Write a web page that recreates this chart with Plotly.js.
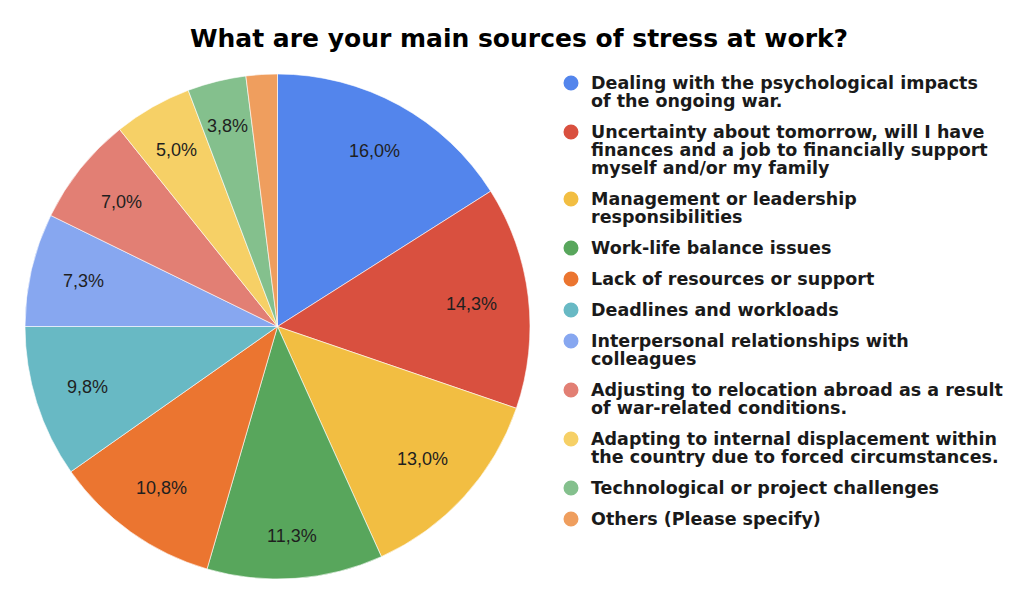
<!DOCTYPE html>
<html>
<head>
<meta charset="utf-8">
<script src="https://cdn.plot.ly/plotly-3.0.1.min.js"></script>
<style>html,body{margin:0;padding:0;background:#fff;}#chart{width:1024px;height:601px;}</style>
</head>
<body>
<div id="chart"></div>
<script>
const categories = [
  "Dealing with the psychological impacts of the ongoing war.",
  "Uncertainty about tomorrow, will I have finances and a job to financially support myself and/or my family",
  "Management or leadership responsibilities",
  "Work-life balance issues",
  "Lack of resources or support",
  "Deadlines and workloads",
  "Interpersonal relationships with colleagues",
  "Adjusting to relocation abroad as a result of war-related conditions.",
  "Adapting to internal displacement within the country due to forced circumstances.",
  "Technological or project challenges",
  "Others (Please specify)"
];
const legendLines = [
  ["Dealing with the psychological impacts", "of the ongoing war."],
  ["Uncertainty about tomorrow, will I have", "finances and a job to financially support", "myself and/or my family"],
  ["Management or leadership", "responsibilities"],
  ["Work-life balance issues"],
  ["Lack of resources or support"],
  ["Deadlines and workloads"],
  ["Interpersonal relationships with", "colleagues"],
  ["Adjusting to relocation abroad as a result", "of war-related conditions."],
  ["Adapting to internal displacement within", "the country due to forced circumstances."],
  ["Technological or project challenges"],
  ["Others (Please specify)"]
];
const responses = [64, 57, 52, 45, 43, 39, 29, 28, 20, 15, 8];
const colors = ["#5385EC", "#D9503F", "#F2BE42", "#58A65C", "#EB7530", "#68B9C4",
                "#87A7F0", "#E27F74", "#F6D066", "#84C08D", "#EF9E5E"];

const W = 1024, H = 601;
const total = responses.reduce((a, b) => a + b, 0);
const pctText = responses.map(v => (v / total * 100 + 1e-9).toFixed(1).replace(".", ",") + "%");

// pie geometry (domain)
const dom = {x: [25 / W, 530 / W], y: [22 / H, 527 / H]};
const cx = (dom.x[0] + dom.x[1]) / 2 * W;
const cy = (1 - (dom.y[0] + dom.y[1]) / 2) * H;
const R = Math.min((dom.x[1] - dom.x[0]) * W, (dom.y[1] - dom.y[0]) * H) / 2;

const annotations = [];
const shapes = [];

// slice labels (all but the tiny last slice): text box kept a fixed inset from the rim
const labelSize = 18, inset = 32;
let cum = 0;
responses.forEach((v, i) => {
  const mid = (cum + v / 2) / total * 2 * Math.PI;
  cum += v;
  if (i === responses.length - 1) return;
  const s = Math.sin(mid), c = Math.cos(mid);
  const bw = pctText[i].length * 0.545 * labelSize, bh = labelSize;
  const half = bw / 2 * Math.abs(s) + bh / 2 * Math.abs(c);
  const rr = R - inset - half;
  const px = cx + rr * s;
  const py = cy - rr * c;
  annotations.push({
    xref: "paper", yref: "paper", x: px / W, y: 1 - py / H,
    xanchor: "center", yanchor: "middle", showarrow: false,
    text: pctText[i],
    font: {family: "Liberation Sans, Arial", size: labelSize, color: "#1f1f1f"}
  });
});

// legend
const legX = 571, textX = 589, lineH = 18, gap = 13;
let y = 83;
legendLines.forEach((lines, i) => {
  shapes.push({
    type: "circle", xref: "paper", yref: "paper",
    x0: (legX - 7.5) / W, x1: (legX + 7.5) / W,
    y0: 1 - (y + 7.5) / H, y1: 1 - (y - 7.5) / H,
    fillcolor: colors[i], line: {width: 0}
  });
  lines.forEach((ln, k) => {
    annotations.push({
      xref: "paper", yref: "paper",
      x: textX / W, y: 1 - (y + k * lineH) / H,
      xanchor: "left", yanchor: "middle",
      text: ln, showarrow: false,
      font: {family: "DejaVu Sans", size: 17.5, color: "#1a1a1a", weight: "bold"}
    });
  });
  y += lines.length * lineH + gap;
});

const trace = {
  type: "pie",
  labels: categories,
  values: responses,
  marker: {colors: colors, line: {color: "#ffffff", width: 0.6}},
  sort: false,
  direction: "clockwise",
  rotation: 0,
  textinfo: "none",
  hoverinfo: "label+percent",
  showlegend: false,
  domain: dom
};

const layout = {
  width: W, height: H,
  margin: {l: 0, r: 0, t: 0, b: 0},
  paper_bgcolor: "#ffffff",
  separators: ", ",
  showlegend: false,
  title: {
    text: "What are your main sources of stress at work?",
    font: {family: "DejaVu Sans", size: 25, color: "#000000", weight: "bold"},
    x: 519 / W, xanchor: "center", y: 1 - 38 / H, yanchor: "middle"
  },
  annotations: annotations,
  shapes: shapes
};

Plotly.newPlot("chart", [trace], layout, {displayModeBar: false, staticPlot: true});
</script>
</body>
</html>
